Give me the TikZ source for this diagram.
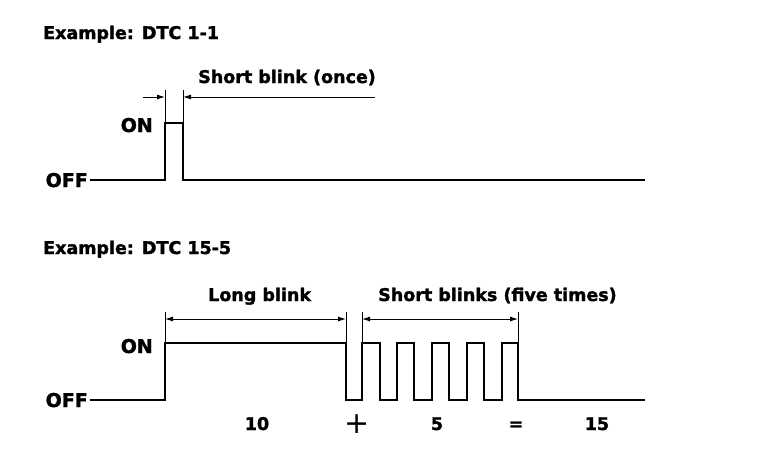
\documentclass[tikz,border=0pt]{standalone}
\usepackage{fontspec}
\setmainfont{DejaVu Sans}[BoldFeatures={FakeBold=1.6}]
\usetikzlibrary{arrows.meta}
\begin{document}
\begin{tikzpicture}[x=1pt,y=-1pt,
  lbl/.style={font=\fontsize{17.5}{20}\selectfont\bfseries, inner sep=0pt},
  lvl/.style={font=\fontsize{19}{22}\selectfont\bfseries, inner sep=0pt},
  wave/.style={line width=2.6pt, line join=miter},
  ext/.style={line width=0.9pt},
  dim/.style={line width=0.9pt, -{Latex[length=8pt,width=5pt]}},
  dimb/.style={line width=0.9pt, {Latex[length=8pt,width=5pt]}-{Latex[length=8pt,width=5pt]}}]
\useasboundingbox[fill=white] (0,0) rectangle (768,466);

% ---------- Example DTC 1-1 ----------
\node[lbl, anchor=base west] (t1) at (43,39) {Example: DTC 1-1};
\node[lbl, anchor=base west] (s1) at (198,83) {Short blink (once)};
\node[lvl, anchor=base east] (on1) at (153,132) {ON};
\node[lvl, anchor=base east] (off1) at (88,187) {OFF};

\coordinate (w1a) at (90,180);
\coordinate (w1b) at (165,180);
\coordinate (w1c) at (165,123);
\coordinate (w1d) at (183,123);
\coordinate (w1e) at (183,180);
\coordinate (w1f) at (645,180);
\draw[wave] (w1a) -- (w1b) -- (w1c) -- (w1d) -- (w1e) -- (w1f);

\coordinate (e1a) at (165,90);
\coordinate (e1b) at (183,90);
\draw[ext] (e1a) -- (w1c);
\draw[ext] (e1b) -- (w1d);

\coordinate (d1l) at (143,97);
\coordinate (d1a) at (165,97);
\coordinate (d1b) at (183,97);
\coordinate (d1r) at (375,97);
\draw[dim] (d1l) -- (d1a);
\draw[dim] (d1r) -- (d1b);

% ---------- Example DTC 15-5 ----------
\node[lbl, anchor=base west] (t2) at (43,254) {Example: DTC 15-5};
\node[lbl, anchor=base west] (lb) at (208,301) {Long blink};
\node[lbl, anchor=base west] (sb) at (378,301) {Short blinks (five times)};
\node[lvl, anchor=base east] (on2) at (153,353) {ON};
\node[lvl, anchor=base east] (off2) at (88,407) {OFF};

\draw[wave] (90,400) -- (165,400) -- (165,343) -- (346,343) -- (346,400)
  -- (362,400) -- (362,343) -- (380,343) -- (380,400)
  -- (397,400) -- (397,343) -- (414,343) -- (414,400)
  -- (432,400) -- (432,343) -- (449,343) -- (449,400)
  -- (467,400) -- (467,343) -- (484,343) -- (484,400)
  -- (502,400) -- (502,343) -- (518,343) -- (518,400) -- (645,400);

\coordinate (x1t) at (165,312); \coordinate (x1b) at (165,343);
\coordinate (x2t) at (346,312); \coordinate (x2b) at (346,343);
\coordinate (x3t) at (362,312); \coordinate (x3b) at (362,343);
\coordinate (x4t) at (518,312); \coordinate (x4b) at (518,343);
\draw[ext] (x1t) -- (x1b);
\draw[ext] (x2t) -- (x2b);
\draw[ext] (x3t) -- (x3b);
\draw[ext] (x4t) -- (x4b);

\coordinate (d2a) at (165,319);
\coordinate (d2b) at (346,319);
\coordinate (d2c) at (362,319);
\coordinate (d2d) at (518,319);
\draw[dimb] (d2a) -- (d2b);
\draw[dimb] (d2c) -- (d2d);

\node[lbl, anchor=base] (n10) at (257,430) {10};
\node[inner sep=0pt, anchor=base, font=\fontsize{30}{30}\selectfont] (nplus) at (357,433) {+};
\node[lbl, anchor=base] (n5) at (437,430) {5};
\node[lbl, anchor=base] (neq) at (516,430) {=};
\node[lbl, anchor=base] (n15) at (597,430) {15};
\end{tikzpicture}
\end{document}
